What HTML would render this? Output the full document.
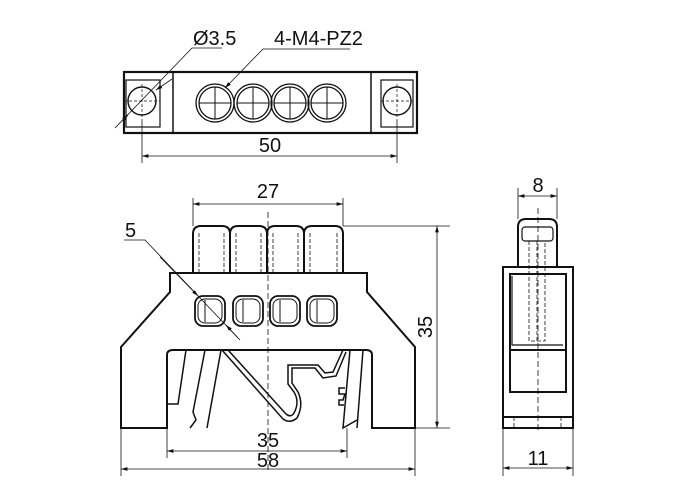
<!DOCTYPE html>
<html><head><meta charset="utf-8"><style>
html,body{margin:0;padding:0;background:#fff}
svg{display:block}
text{font-family:"Liberation Sans",Arial,sans-serif;fill:#111}
</style></head><body>
<svg width="700" height="500" viewBox="0 0 700 500" xmlns="http://www.w3.org/2000/svg">
<defs>
<marker id="a" viewBox="0 0 10 10" refX="10" refY="5" markerWidth="8" markerHeight="8" orient="auto-start-reverse"><path d="M0,2 L10,5 L0,8 z" fill="#111"/></marker>
</defs>
<g fill="none" stroke="#111">
<rect x="124" y="72" width="293" height="61" stroke-width="2.2"/>
<line x1="173" y1="72" x2="173" y2="133" stroke-width="1.5"/>
<line x1="371" y1="72" x2="371" y2="133" stroke-width="1.5"/>
<rect x="126" y="80" width="34" height="47" stroke-width="1.2"/>
<rect x="381" y="80" width="32" height="47" stroke-width="1.2"/>
<circle cx="142" cy="101" r="14" stroke-width="1.4"/>
<circle cx="397" cy="101" r="14" stroke-width="1.4"/>
<g stroke-width="0.7" stroke-dasharray="3,2">
<line x1="124" y1="101" x2="160" y2="101"/><line x1="142" y1="84" x2="142" y2="120"/>
<line x1="381" y1="101" x2="413" y2="101"/><line x1="397" y1="84" x2="397" y2="120"/>
</g>
<g stroke-width="1.3">
<circle cx="215" cy="103" r="19"/><circle cx="215" cy="103" r="16"/>
<circle cx="253" cy="103" r="19"/><circle cx="253" cy="103" r="16"/>
<circle cx="290" cy="103" r="19"/><circle cx="290" cy="103" r="16"/>
<circle cx="327" cy="103" r="19"/><circle cx="327" cy="103" r="16"/>
</g>
<g stroke-width="1">
<line x1="199" y1="103" x2="231" y2="103"/><line x1="215" y1="87" x2="215" y2="119"/>
<line x1="237" y1="103" x2="269" y2="103"/><line x1="253" y1="87" x2="253" y2="119"/>
<line x1="274" y1="103" x2="306" y2="103"/><line x1="290" y1="87" x2="290" y2="119"/>
<line x1="311" y1="103" x2="343" y2="103"/><line x1="327" y1="87" x2="327" y2="119"/>
</g>
<g stroke-width="0.8">
<line x1="142" y1="120" x2="142" y2="163"/><line x1="397" y1="120" x2="397" y2="163"/>
<line x1="142" y1="156" x2="397" y2="156" marker-start="url(#a)" marker-end="url(#a)"/>
<polyline points="222,48 192,48 115,128"/>
<line x1="172" y1="79" x2="156" y2="90" marker-end="url(#a)"/>
<line x1="122" y1="121" x2="128" y2="115" marker-end="url(#a)"/>
<polyline points="350,49 263,49 225,88" marker-end="url(#a)"/>
</g>
<g stroke-width="2">
<path d="M193,273 L193,234 Q193,226 201,226 L222,226 Q230,226 230,234 L230,273"/>
<path d="M230,234 Q230,226 238,226 L259,226 Q267,226 267,234 L267,273"/>
<path d="M267,234 Q267,226 275,226 L296,226 Q304,226 304,234 L304,273"/>
<path d="M304,234 Q304,226 312,226 L335,226 Q343,226 343,234 L343,273"/>
<path d="M170,273 L367,273 L367,292 L415,347 L415,428 L372,428 L372,355 Q372,350 366,350 L173,350 Q167,350 167,355 L167,428 L121,428 L121,347 L170,292 Z"/>
</g>
<g stroke-width="0.8" stroke-dasharray="4,2">
<line x1="199" y1="233" x2="199" y2="273"/><line x1="224" y1="233" x2="224" y2="273"/>
<line x1="236" y1="233" x2="236" y2="273"/><line x1="261" y1="233" x2="261" y2="273"/>
<line x1="273" y1="233" x2="273" y2="273"/><line x1="298" y1="233" x2="298" y2="273"/>
<line x1="310" y1="233" x2="310" y2="273"/><line x1="337" y1="233" x2="337" y2="273"/>
</g>
<g stroke-width="1.8">
<rect x="195" y="296" width="30" height="30" rx="8"/>
<rect x="233" y="296" width="30" height="30" rx="8"/>
<rect x="270" y="296" width="30" height="30" rx="8"/>
<rect x="307" y="296" width="30" height="30" rx="8"/>
</g>
<g stroke-width="1">
<rect x="198" y="299" width="24" height="24" rx="7"/>
<rect x="236" y="299" width="24" height="24" rx="7"/>
<rect x="273" y="299" width="24" height="24" rx="7"/>
<rect x="310" y="299" width="24" height="24" rx="7"/>
<line x1="205" y1="300" x2="205" y2="322"/><line x1="243" y1="300" x2="243" y2="322"/>
<line x1="280" y1="300" x2="280" y2="322"/><line x1="317" y1="300" x2="317" y2="322"/>
</g>
<g stroke-width="1.5">
<polyline points="186,350 178,404 167,404"/>
<polyline points="205,350 193,412 196,420 190,428"/>
<line x1="221" y1="350" x2="207" y2="428"/>
<path d="M222,350 L283,419 Q290,424 297,418 Q304,405 298,392 L292,383 L292,368 L315,368 L323,378 L336,376 L346,352"/>
<path d="M228,350 L286,414 Q291,418 294,413 Q300,402 294,392 L288,384 L288,365 L318,365 L325,373 L333,372 L343,350"/>
<polyline points="350,350 343,428 357,420"/>
<polyline points="345,388 339,388 339,394 345,394 343,400 339,400 339,405 344,405"/>
<line x1="363" y1="350" x2="357" y2="428"/>
</g>
<g stroke-width="0.8">
<line x1="193" y1="226" x2="193" y2="198"/><line x1="343" y1="226" x2="343" y2="198"/>
<line x1="193" y1="204" x2="343" y2="204" marker-start="url(#a)" marker-end="url(#a)"/>
<line x1="343" y1="226" x2="450" y2="226"/><line x1="415" y1="428" x2="450" y2="428"/>
<line x1="437" y1="226" x2="437" y2="428" marker-start="url(#a)" marker-end="url(#a)"/>
<line x1="167" y1="428" x2="167" y2="458"/><line x1="347" y1="428" x2="347" y2="458"/>
<line x1="167" y1="451" x2="347" y2="451" marker-start="url(#a)" marker-end="url(#a)"/>
<line x1="121" y1="428" x2="121" y2="476"/><line x1="415" y1="428" x2="415" y2="476"/>
<line x1="121" y1="469" x2="415" y2="469" marker-start="url(#a)" marker-end="url(#a)"/>
<line x1="268" y1="212" x2="268" y2="472" stroke-dasharray="6,3"/>
<polyline points="124,240 145,240 238,338"/>
<line x1="160" y1="257" x2="198" y2="296" marker-end="url(#a)"/>
<line x1="240" y1="340" x2="226" y2="325" marker-end="url(#a)"/>
</g>
<g stroke-width="2">
<path d="M518,267 L518,227 Q518,219 526,219 L549,219 Q557,219 557,227 L557,267"/>
<rect x="503" y="267" width="70" height="161"/>
<rect x="510" y="274" width="56" height="118"/>
<line x1="510" y1="350" x2="566" y2="350"/>
<line x1="503" y1="417" x2="573" y2="417"/>
</g>
<g stroke-width="1.2">
<rect x="522" y="227" width="31" height="14" rx="3"/>
<polyline points="512,276 512,345 563,345"/>
</g>
<g stroke-width="0.8" stroke-dasharray="4,2">
<polyline points="529,241 529,341 545,341 545,241"/>
<line x1="537" y1="241" x2="537" y2="341"/>
<line x1="514" y1="417" x2="514" y2="428"/><line x1="561" y1="417" x2="561" y2="428"/>
<line x1="538" y1="208" x2="538" y2="432" stroke-dasharray="6,3"/>
</g>
<g stroke-width="0.8">
<line x1="518" y1="219" x2="518" y2="188"/><line x1="557" y1="219" x2="557" y2="188"/>
<line x1="518" y1="196" x2="557" y2="196" marker-start="url(#a)" marker-end="url(#a)"/>
<line x1="503" y1="428" x2="503" y2="476"/><line x1="573" y1="428" x2="573" y2="476"/>
<line x1="503" y1="468" x2="573" y2="468" marker-start="url(#a)" marker-end="url(#a)"/>
</g>
</g>
<g font-size="20">
<text x="193" y="45">Ø3.5</text>
<text x="274" y="45">4-M4-PZ2</text>
<text x="270" y="152" text-anchor="middle">50</text>
<text x="268" y="198" text-anchor="middle">27</text>
<text x="125" y="237">5</text>
<text x="268" y="447" text-anchor="middle">35</text>
<text x="268" y="467" text-anchor="middle">58</text>
<text x="538" y="192" text-anchor="middle">8</text>
<text x="538" y="465" text-anchor="middle">11</text>
<text transform="translate(432,327) rotate(-90)" text-anchor="middle">35</text>
</g>
</svg>
</body></html>
